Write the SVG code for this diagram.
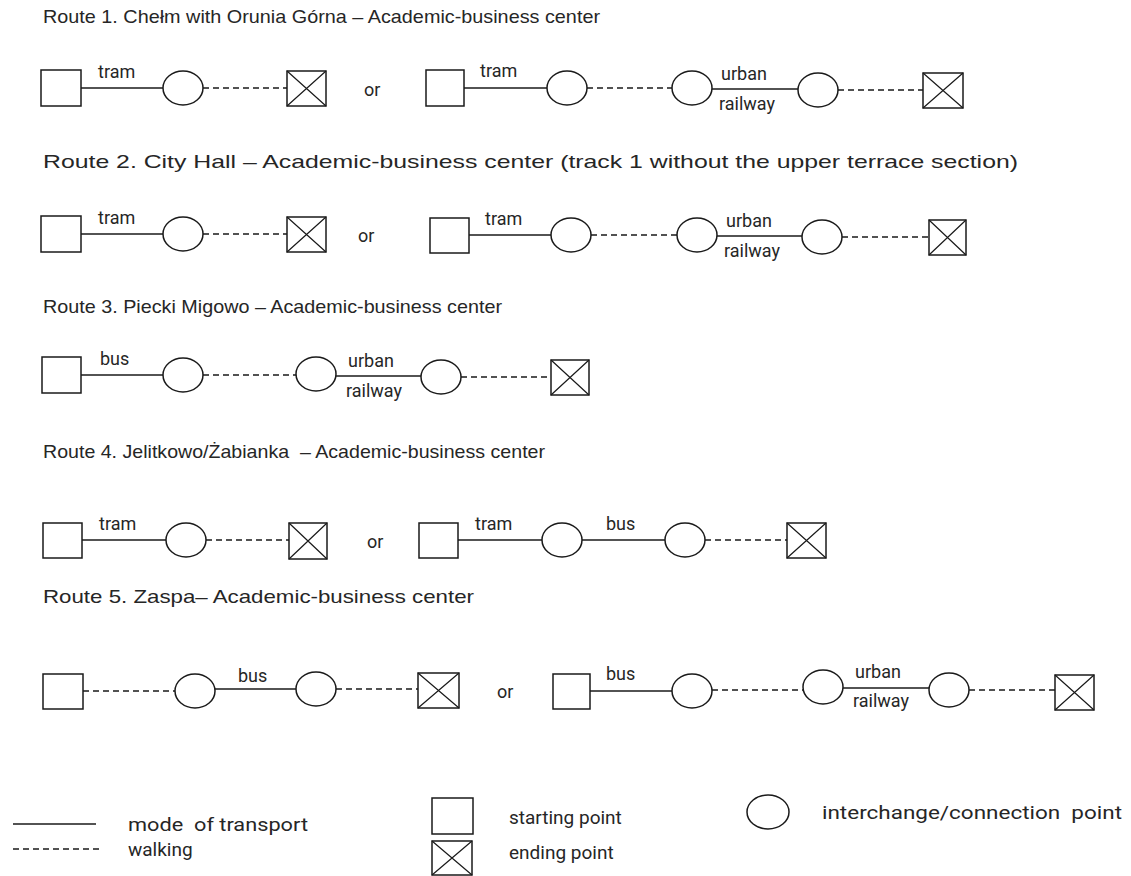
<svg xmlns="http://www.w3.org/2000/svg" width="1131" height="876" viewBox="0 0 1131 876">
<style>
.t{font-family:"Liberation Sans",Arial,sans-serif;font-size:19px;fill:#262626}
.l{font-family:Roboto,"Liberation Sans",sans-serif;font-size:18px;fill:#262626}
.g{font-family:Roboto,"Liberation Sans",sans-serif;font-size:19px;fill:#262626}
.n{fill:#fff;stroke:#1a1a1a;stroke-width:1.5}
.x{stroke:#1a1a1a;stroke-width:1.2}
.s{stroke:#1a1a1a;stroke-width:1.5;fill:none}
.d{stroke:#1a1a1a;stroke-width:1.5;fill:none;stroke-dasharray:6 4}
</style>
<rect width="1131" height="876" fill="#fff"/>
<g id="titles">
<text class="t" x="43" y="23" textLength="557" lengthAdjust="spacingAndGlyphs">Route 1. Chełm with Orunia Górna – Academic-business center</text>
<text class="t" x="43" y="168" textLength="975" lengthAdjust="spacingAndGlyphs">Route 2. City Hall – Academic-business center (track 1 without the upper terrace section)</text>
<text class="t" x="43" y="313" textLength="459" lengthAdjust="spacingAndGlyphs">Route 3. Piecki Migowo – Academic-business center</text>
<text class="t" x="43" y="458" style="white-space:pre" textLength="502" lengthAdjust="spacingAndGlyphs">Route 4. Jelitkowo/Żabianka  – Academic-business center</text>
<text class="t" x="43" y="603" textLength="431" lengthAdjust="spacingAndGlyphs">Route 5. Zaspa– Academic-business center</text>
</g>
<g id="connectors">
<line class="s" x1="81" y1="88" x2="163" y2="88"/>
<line class="d" x1="203" y1="88" x2="287" y2="88"/>
<line class="s" x1="464" y1="88" x2="547" y2="88"/>
<line class="d" x1="587" y1="88" x2="672" y2="88"/>
<line class="s" x1="712" y1="89" x2="798" y2="89"/>
<line class="d" x1="838" y1="90" x2="923" y2="90"/>
<line class="s" x1="81" y1="234" x2="163" y2="234"/>
<line class="d" x1="203" y1="234" x2="287" y2="234"/>
<line class="s" x1="469" y1="235" x2="551" y2="235"/>
<line class="d" x1="591" y1="235" x2="677" y2="235"/>
<line class="s" x1="717" y1="236" x2="802" y2="236"/>
<line class="d" x1="842" y1="237" x2="929" y2="237"/>
<line class="s" x1="81" y1="375" x2="163" y2="375"/>
<line class="d" x1="203" y1="375" x2="296" y2="375"/>
<line class="s" x1="336" y1="376" x2="421" y2="376"/>
<line class="d" x1="461" y1="377" x2="551" y2="377"/>
<line class="s" x1="82" y1="540" x2="166" y2="540"/>
<line class="d" x1="206" y1="540" x2="289" y2="540"/>
<line class="s" x1="458" y1="540" x2="542" y2="540"/>
<line class="s" x1="582" y1="540" x2="665" y2="540"/>
<line class="d" x1="705" y1="540" x2="787" y2="540"/>
<line class="d" x1="83" y1="691" x2="175" y2="691"/>
<line class="s" x1="215" y1="689" x2="296" y2="689"/>
<line class="d" x1="336" y1="689" x2="418" y2="689"/>
<line class="s" x1="590" y1="691" x2="672" y2="691"/>
<line class="d" x1="712" y1="690" x2="803" y2="690"/>
<line class="s" x1="843" y1="688" x2="929" y2="688"/>
<line class="d" x1="969" y1="690" x2="1055" y2="690"/>
</g>
<g id="labels">
<text class="l" x="98" y="78">tram</text>
<text class="l" x="364" y="96">or</text>
<text class="l" x="480" y="77">tram</text>
<text class="l" x="721" y="80">urban</text>
<text class="l" x="719" y="110">railway</text>
<text class="l" x="98" y="224">tram</text>
<text class="l" x="358" y="242">or</text>
<text class="l" x="485" y="225">tram</text>
<text class="l" x="726" y="227">urban</text>
<text class="l" x="724" y="257">railway</text>
<text class="l" x="100" y="365">bus</text>
<text class="l" x="348" y="367">urban</text>
<text class="l" x="346" y="397">railway</text>
<text class="l" x="99" y="530">tram</text>
<text class="l" x="367" y="548">or</text>
<text class="l" x="475" y="530">tram</text>
<text class="l" x="606" y="530">bus</text>
<text class="l" x="238" y="682">bus</text>
<text class="l" x="497" y="698">or</text>
<text class="l" x="606" y="680">bus</text>
<text class="l" x="855" y="678">urban</text>
<text class="l" x="853" y="707">railway</text>
</g>
<g id="r1a-start"><rect class="n" x="41" y="70" width="40" height="36"/></g>
<g id="r1a-c1"><ellipse class="n" cx="183" cy="88" rx="20" ry="17"/></g>
<g id="r1a-end"><rect class="n" x="287" y="71" width="39" height="35"/><path class="x" d="M287 71L326 106M326 71L287 106"/></g>
<g id="r1b-start"><rect class="n" x="426" y="70" width="38" height="36"/></g>
<g id="r1b-c1"><ellipse class="n" cx="567" cy="88" rx="20" ry="17"/></g>
<g id="r1b-c2"><ellipse class="n" cx="692" cy="88" rx="20" ry="17"/></g>
<g id="r1b-c3"><ellipse class="n" cx="818" cy="90" rx="20" ry="17"/></g>
<g id="r1b-end"><rect class="n" x="923" y="73" width="40" height="35"/><path class="x" d="M923 73L963 108M963 73L923 108"/></g>
<g id="r2a-start"><rect class="n" x="41" y="216" width="40" height="36"/></g>
<g id="r2a-c1"><ellipse class="n" cx="183" cy="234" rx="20" ry="17"/></g>
<g id="r2a-end"><rect class="n" x="287" y="217" width="39" height="35"/><path class="x" d="M287 217L326 252M326 217L287 252"/></g>
<g id="r2b-start"><rect class="n" x="430" y="218" width="39" height="35"/></g>
<g id="r2b-c1"><ellipse class="n" cx="571" cy="235" rx="20" ry="17"/></g>
<g id="r2b-c2"><ellipse class="n" cx="697" cy="235" rx="20" ry="17"/></g>
<g id="r2b-c3"><ellipse class="n" cx="822" cy="237" rx="20" ry="17"/></g>
<g id="r2b-end"><rect class="n" x="929" y="220" width="37" height="35"/><path class="x" d="M929 220L966 255M966 220L929 255"/></g>
<g id="r3-start"><rect class="n" x="42" y="357" width="39" height="36"/></g>
<g id="r3-c1"><ellipse class="n" cx="183" cy="375" rx="20" ry="17"/></g>
<g id="r3-c2"><ellipse class="n" cx="316" cy="374" rx="20" ry="17"/></g>
<g id="r3-c3"><ellipse class="n" cx="441" cy="377" rx="20" ry="17"/></g>
<g id="r3-end"><rect class="n" x="551" y="360" width="38" height="35"/><path class="x" d="M551 360L589 395M589 360L551 395"/></g>
<g id="r4a-start"><rect class="n" x="43" y="523" width="39" height="35"/></g>
<g id="r4a-c1"><ellipse class="n" cx="186" cy="540" rx="20" ry="17"/></g>
<g id="r4a-end"><rect class="n" x="289" y="523" width="38" height="36"/><path class="x" d="M289 523L327 559M327 523L289 559"/></g>
<g id="r4b-start"><rect class="n" x="419" y="523" width="39" height="35"/></g>
<g id="r4b-c1"><ellipse class="n" cx="562" cy="540" rx="20" ry="17"/></g>
<g id="r4b-c2"><ellipse class="n" cx="685" cy="540" rx="20" ry="17"/></g>
<g id="r4b-end"><rect class="n" x="787" y="523" width="39" height="35"/><path class="x" d="M787 523L826 558M826 523L787 558"/></g>
<g id="r5a-start"><rect class="n" x="43" y="674" width="40" height="35"/></g>
<g id="r5a-c1"><ellipse class="n" cx="195" cy="691" rx="20" ry="17"/></g>
<g id="r5a-c2"><ellipse class="n" cx="316" cy="689" rx="20" ry="17"/></g>
<g id="r5a-end"><rect class="n" x="418" y="673" width="41" height="35"/><path class="x" d="M418 673L459 708M459 673L418 708"/></g>
<g id="r5b-start"><rect class="n" x="553" y="674" width="37" height="35"/></g>
<g id="r5b-c1"><ellipse class="n" cx="692" cy="691" rx="20" ry="17"/></g>
<g id="r5b-c2"><ellipse class="n" cx="823" cy="687" rx="20" ry="17"/></g>
<g id="r5b-c3"><ellipse class="n" cx="949" cy="690" rx="20" ry="17"/></g>
<g id="r5b-end"><rect class="n" x="1055" y="675" width="39" height="35"/><path class="x" d="M1055 675L1094 710M1094 675L1055 710"/></g>
<g id="legend">
<line class="s" x1="13" y1="824" x2="96" y2="824"/>
<text class="g" x="128" y="831" style="white-space:pre" textLength="180" lengthAdjust="spacingAndGlyphs">mode  of transport</text>
<line class="d" x1="13" y1="849" x2="100" y2="849"/>
<text class="g" x="128" y="856">walking</text>
<rect class="n" x="432" y="798" width="41" height="36"/>
<text class="g" x="509" y="824">starting point</text>
<rect class="n" x="432" y="841" width="40" height="34"/>
<path class="x" d="M432 841L472 875M472 841L432 875"/>
<text class="g" x="509" y="859">ending point</text>
<ellipse class="n" cx="768" cy="812" rx="21" ry="17"/>
<text class="g" x="822" y="819" style="white-space:pre" textLength="300" lengthAdjust="spacingAndGlyphs">interchange/connection  point</text>
</g>
</svg>
